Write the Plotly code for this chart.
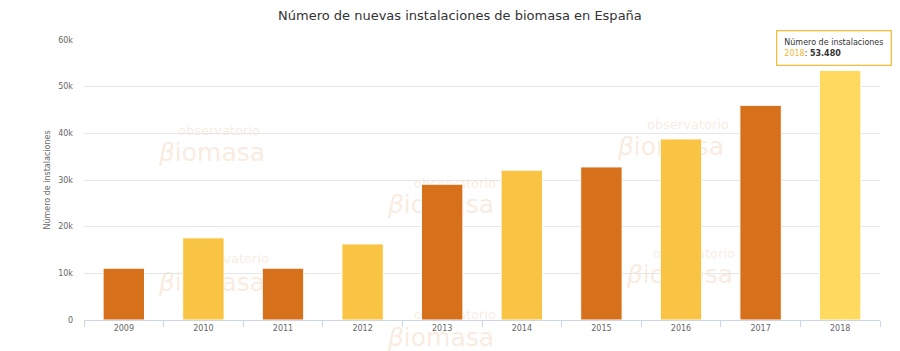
import plotly.graph_objects as go

years = ["2009", "2010", "2011", "2012", "2013", "2014", "2015", "2016", "2017", "2018"]
installs = [11100, 17600, 11100, 16300, 29100, 32100, 32800, 38800, 46000, 53480]
bar_colors = ["#D6701A", "#F9C443", "#D6701A", "#F9C443", "#D6701A",
              "#F9C443", "#D6701A", "#F9C443", "#D6701A", "#FFDA5E"]
y_ticks = [0, 10000, 20000, 30000, 40000, 50000, 60000]
y_tick_labels = ["0", "10k", "20k", "30k", "40k", "50k", "60k"]

# watermark centres in pixels: (observatorio x, y, biomasa x, y)
wm_pos = [(219, 129, 212, 150), (455, 182, 441, 202), (688, 123, 671, 144),
          (694, 252, 680, 272), (455, 313, 441, 335), (228, 257, 212, 280)]

FONT = "DejaVu Sans"
L, R, T, B, W, H = 84, 20, 40, 31, 900, 351
PW, PH = W - L - R, H - T - B

def px2paper(px, py):
    return (px - L) / PW, (H - B - py) / PH

fig = go.Figure()
fig.add_trace(go.Bar(
    x=list(range(len(years))), y=installs,
    marker=dict(color=bar_colors, line=dict(width=1, color="white")),
    width=0.52, name="Número de instalaciones", showlegend=False,
))

shapes = []
wm_color = "rgba(228,150,85,0.20)"
for (ox, oy, bx, by) in wm_pos:
    for (cx, cy, txt, sz, hw, hh) in [(ox, oy, "observatorio", 13, 45, 8),
                                      (bx, by, "<i>β</i>iomasa", 25, 60, 14)]:
        x0, y0 = px2paper(cx - hw, cy + hh)
        x1, y1 = px2paper(cx + hw, cy - hh)
        shapes.append(dict(
            type="rect", xref="paper", yref="paper", x0=x0, x1=x1, y0=y0, y1=y1,
            line=dict(width=0), fillcolor="rgba(0,0,0,0)", layer="below",
            label=dict(text=txt, textposition="middle center",
                       font=dict(family=FONT, size=sz, color=wm_color)),
        ))

annotations = [dict(
    xref="x", yref="y", x=len(years) - 1, y=installs[-1], yshift=4, xshift=-6,
    xanchor="center", yanchor="bottom", align="left", showarrow=False,
    text=("<span style='color:#333'>Número de instalaciones</span><br>"
          "<span style='color:#F5B731'>" + years[-1] + "</span>: <b>53.480</b>"),
    font=dict(family=FONT, size=8, color="#333"),
    bgcolor="rgba(255,255,255,0.95)", bordercolor="#F5BE3C", borderwidth=1.3, borderpad=7,
)]

fig.update_layout(
    width=W, height=H,
    margin=dict(l=L, r=R, t=T, b=B),
    paper_bgcolor="white", plot_bgcolor="white",
    title=dict(text="Número de nuevas instalaciones de biomasa en España",
               x=0.511, xanchor="center", y=0.955, yanchor="middle",
               font=dict(family=FONT, size=13, color="#333")),
    font=dict(family=FONT, size=8, color="#666"),
    shapes=shapes,
    annotations=annotations,
)
fig.update_xaxes(
    range=[-0.5, len(years) - 0.5],
    tickvals=list(range(len(years))), ticktext=years,
    showgrid=False, showline=True, linecolor="#CCD6EB", linewidth=1,
    ticks="", tickfont=dict(family=FONT, size=8, color="#666"),
    minor=dict(tickvals=[i - 0.5 for i in range(len(years) + 1)], ticks="outside",
               ticklen=6, tickcolor="#CCD6EB", showgrid=False),
    zeroline=False,
)
fig.update_yaxes(
    range=[0, 60000], tickvals=y_ticks, ticktext=y_tick_labels,
    showgrid=True, gridcolor="#E6E6E6", zeroline=False, showline=False,
    tickfont=dict(family=FONT, size=8, color="#666"), ticklabelstandoff=10,
    title=dict(text="Número de instalaciones", font=dict(family=FONT, size=8, color="#666"), standoff=6),
)

fig.write_html("out.html")
